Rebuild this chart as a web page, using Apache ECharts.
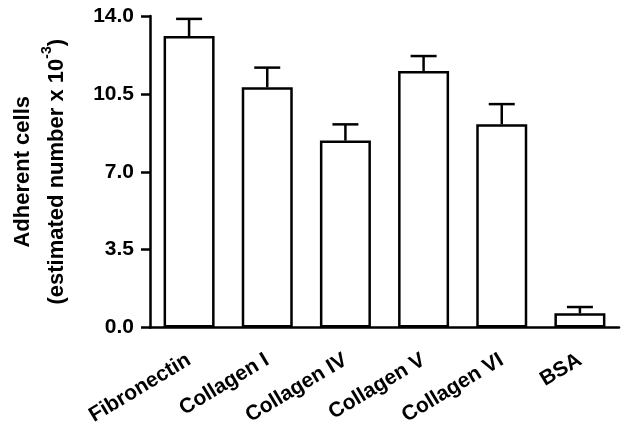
<!DOCTYPE html>
<html>
<head>
<meta charset="utf-8">
<script src="https://cdn.jsdelivr.net/npm/echarts@6/dist/echarts.min.js"></script>
<style>
  html, body { margin: 0; padding: 0; background: #fff; }
  #main { width: 622px; height: 426px; }
</style>
</head>
<body>
<div id="main"></div>
<script>
// data
var categories = ['Fibronectin', 'Collagen I', 'Collagen IV', 'Collagen V', 'Collagen VI', 'BSA'];
var means = [13.1, 10.8, 8.4, 11.53, 9.13, 0.64];
var errors = [0.77, 0.88, 0.73, 0.67, 0.91, 0.28];
var yTicks = [0, 3.5, 7.0, 10.5, 14.0];

var font = "'Liberation Sans', Arial, Helvetica, sans-serif";

var myChart = echarts.init(document.getElementById('main'));

// error bar (upper whisker + cap)
function drawErr(params, api) {
    var i = api.value(0);
    var base = api.coord([i, api.value(1)]);
    var top = api.coord([i, api.value(2)]);
    var half = 13;
    var st = { stroke: '#000', lineWidth: 2.5 };
    return {
        type: 'group',
        children: [
            { type: 'line', shape: { x1: base[0], y1: base[1], x2: top[0], y2: top[1] }, style: st },
            { type: 'line', shape: { x1: top[0] - half, y1: top[1], x2: top[0] + half, y2: top[1] }, style: st }
        ]
    };
}

var errData = [];
for (var i = 0; i < categories.length; i++) {
    errData.push([i, means[i], means[i] + errors[i]]);
}

var option = {
    animation: false,
    backgroundColor: '#fff',
    grid: { left: 150, right: 3, top: 16, bottom: 98.5, outerBoundsMode: 'none' },
    xAxis: {
        type: 'category',
        data: categories,
        axisLine: { lineStyle: { color: '#000', width: 2.5 } },
        axisTick: { alignWithLabel: true, length: 9, lineStyle: { color: '#000', width: 2.5 } },
        axisLabel: {
            rotate: 31, margin: 31, color: '#000',
            fontFamily: font, fontWeight: 'bold', fontSize: 21
        }
    },
    yAxis: {
        type: 'value',
        min: 0, max: 14, interval: 3.5,
        name: '{b|Adherent cells}\n{b|(estimated number x 10}{s|-3}{b|)}',
        nameLocation: 'middle',
        nameRotate: 90,
        nameGap: 76,
        nameTextStyle: {
            color: '#000',
            rich: {
                b: { fontFamily: font, fontWeight: 'bold', fontSize: 22, lineHeight: 34, color: '#000' },
                s: { fontFamily: font, fontWeight: 'bold', fontSize: 14, verticalAlign: 'top', lineHeight: 24, color: '#000' }
            }
        },
        splitLine: { show: false },
        axisLine: { show: true, lineStyle: { color: '#000', width: 2.5 } },
        axisTick: { show: true, length: 9, lineStyle: { color: '#000', width: 2.5 } },
        axisLabel: {
            margin: 16, color: '#000',
            fontFamily: font, fontWeight: 'bold', fontSize: 21,
            formatter: function (v) { return v.toFixed(1); }
        }
    },
    series: [
        {
            type: 'bar',
            data: means,
            barWidth: 51,
            itemStyle: { color: '#fff', borderColor: '#000', borderWidth: 2.5 }
        },
        {
            type: 'custom',
            renderItem: drawErr,
            data: errData,
            z: 3
        }
    ]
};

option && myChart.setOption(option);
</script>
</body>
</html>
